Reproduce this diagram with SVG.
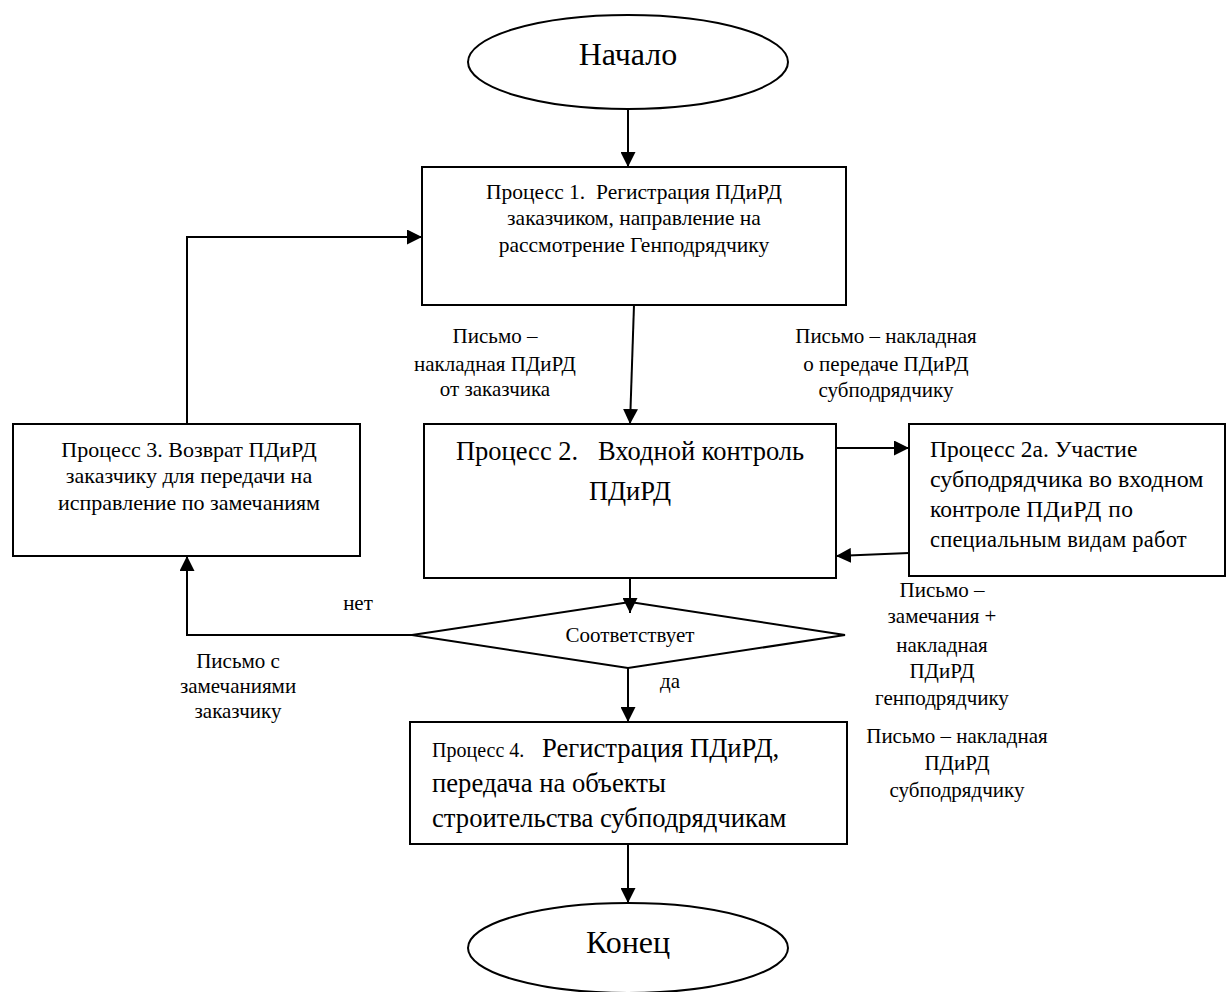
<svg xmlns="http://www.w3.org/2000/svg" width="1226" height="992" viewBox="0 0 1226 992">
<style>
  .shape { fill: #fff; stroke: #000; stroke-width: 2; }
  .conn { fill: none; stroke: #000; stroke-width: 2; }
  text { font-family: "Liberation Serif", "Times New Roman", "DejaVu Serif", serif; fill: #000; }
  .c { text-anchor: middle; }
  .lbl { font-size: 21px; }
</style>
<defs>
  <marker id="arr" markerUnits="userSpaceOnUse" markerWidth="15" markerHeight="15" refX="15" refY="7.5" orient="auto">
    <path d="M0,0 L15,7.5 L0,15 Z" fill="#000"/>
  </marker>
</defs>
<rect width="1226" height="992" fill="#fff"/>

<g id="start">
  <ellipse class="shape" cx="628" cy="62" rx="160" ry="47"/>
  <text class="c" x="628" y="65" font-size="32">Начало</text>
</g>

<g id="p1">
  <rect class="shape" x="422" y="167" width="424" height="138"/>
  <text class="c" x="634" y="199" font-size="21.5" xml:space="preserve">Процесс 1.  Регистрация ПДиРД</text>
  <text class="c" x="634" y="225" font-size="21.5">заказчиком, направление на</text>
  <text class="c" x="634" y="252" font-size="21.5">рассмотрение Генподрядчику</text>
</g>

<g id="p2">
  <rect class="shape" x="424" y="424" width="412" height="154"/>
  <text class="c" x="630" y="460" font-size="26.5" xml:space="preserve">Процесс 2.   Входной контроль</text>
  <text class="c" x="630" y="500" font-size="26.5">ПДиРД</text>
</g>

<g id="p2a">
  <rect class="shape" x="909" y="424" width="316" height="152"/>
  <text x="930" y="457" font-size="23.5">Процесс 2а. Участие</text>
  <text x="930" y="487" font-size="24">субподрядчика во входном</text>
  <text x="930" y="517" font-size="23.5">контроле <tspan letter-spacing="0.5">ПДиРД по</tspan></text>
  <text x="930" y="547" font-size="22.5" letter-spacing="0.2">специальным видам работ</text>
</g>

<g id="p3">
  <rect class="shape" x="13" y="424" width="347" height="132"/>
  <text class="c" x="189" y="457" font-size="22">Процесс 3. Возврат ПДиРД</text>
  <text class="c" x="189" y="483" font-size="22">заказчику для передачи на</text>
  <text class="c" x="189" y="510" font-size="22">исправление по замечаниям</text>
</g>

<g id="decision">
  <polygon class="shape" points="412,635 630,602 845,635 628,668"/>
  <text class="c" x="630" y="642" font-size="21">Соответствует</text>
</g>

<g id="p4">
  <rect class="shape" x="410" y="722" width="437" height="122"/>
  <text x="432" y="757" font-size="20">Процесс 4.<tspan x="542" font-size="26.67">Регистрация ПДиРД,</tspan></text>
  <text x="432" y="792" font-size="26.67">передача на объекты</text>
  <text x="432" y="827" font-size="26.67">строительства субподрядчикам</text>
</g>

<g id="end">
  <ellipse class="shape" cx="628" cy="948" rx="160" ry="45"/>
  <text class="c" x="628" y="953" font-size="32">Конец</text>
</g>

<g id="connectors">
  <line class="conn" x1="628" y1="109" x2="628" y2="167" marker-end="url(#arr)"/>
  <line class="conn" x1="634" y1="305" x2="630" y2="424" marker-end="url(#arr)"/>
  <line class="conn" x1="836" y1="448" x2="909" y2="448" marker-end="url(#arr)"/>
  <line class="conn" x1="909" y1="553" x2="836" y2="556" marker-end="url(#arr)"/>
  <line class="conn" x1="630" y1="578" x2="630" y2="613" marker-end="url(#arr)"/>
  <polyline class="conn" points="187,424 187,237 422,237" marker-end="url(#arr)"/>
  <polyline class="conn" points="412,635 187,635 187,556" marker-end="url(#arr)"/>
  <line class="conn" x1="628" y1="668" x2="628" y2="722" marker-end="url(#arr)"/>
  <line class="conn" x1="628" y1="844" x2="628" y2="903" marker-end="url(#arr)"/>
</g>

<g id="labels" class="lbl">
  <text class="c lbl" x="495" y="343">Письмо –</text>
  <text class="c lbl" x="495" y="371">накладная ПДиРД</text>
  <text class="c lbl" x="495" y="396">от заказчика</text>

  <text class="c lbl" x="886" y="343">Письмо – накладная</text>
  <text class="c lbl" x="886" y="371">о передаче ПДиРД</text>
  <text class="c lbl" x="886" y="397">субподрядчику</text>

  <text class="c lbl" x="358" y="610">нет</text>

  <text class="c lbl" x="238" y="668">Письмо с</text>
  <text class="c lbl" x="238" y="693">замечаниями</text>
  <text class="c lbl" x="238" y="718">заказчику</text>

  <text class="lbl" x="660" y="688">да</text>

  <text class="c lbl" x="942" y="597">Письмо –</text>
  <text class="c lbl" x="942" y="623">замечания +</text>
  <text class="c lbl" x="942" y="652">накладная</text>
  <text class="c lbl" x="942" y="678">ПДиРД</text>
  <text class="c lbl" x="942" y="705">генподрядчику</text>

  <text class="c lbl" x="957" y="743">Письмо – накладная</text>
  <text class="c lbl" x="957" y="770">ПДиРД</text>
  <text class="c lbl" x="957" y="797">субподрядчику</text>
</g>
</svg>
